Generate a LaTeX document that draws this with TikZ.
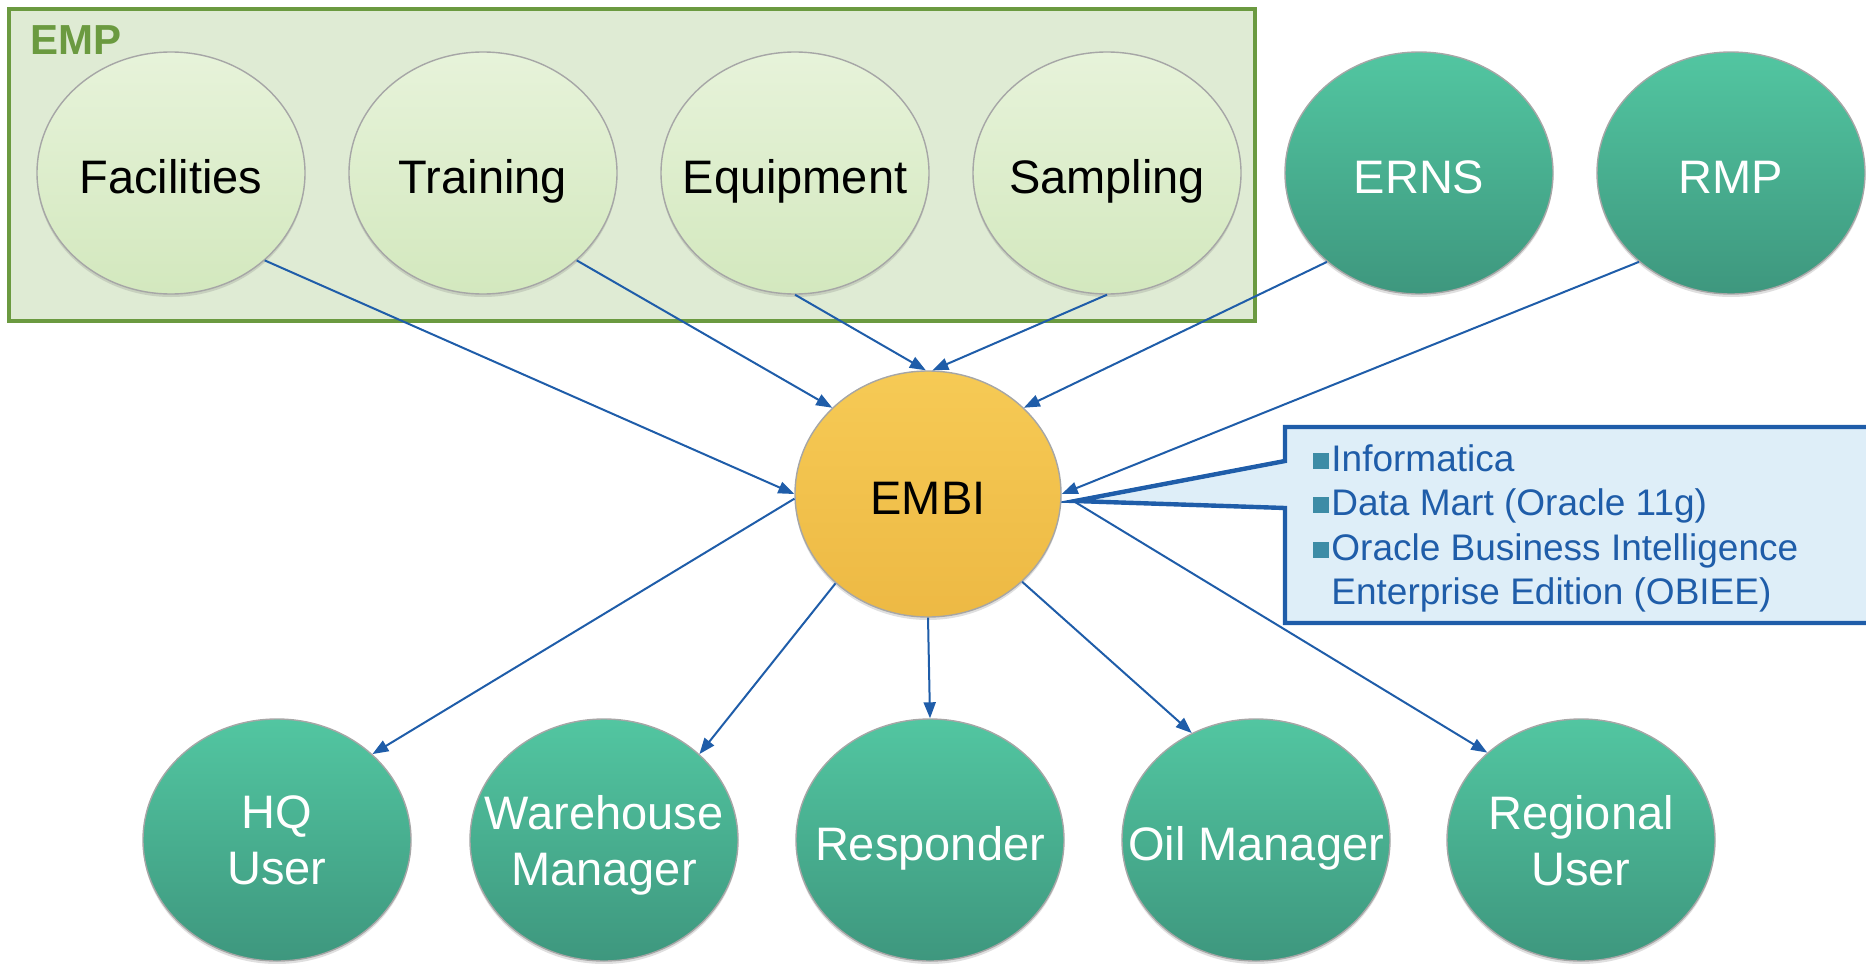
\documentclass[tikz,border=0pt]{standalone}
\usepackage{fontspec}
\setmainfont{Liberation Sans}
\usetikzlibrary{arrows.meta,shadows,shapes.geometric}

\definecolor{empfill}{HTML}{DFEBD4}
\definecolor{empline}{HTML}{6B9A40}
\definecolor{lgtop}{HTML}{E7F3DA}
\definecolor{lgbot}{HTML}{D3E8BE}
\definecolor{tealtop}{HTML}{52C6A1}
\definecolor{tealbot}{HTML}{3E977E}
\definecolor{embitop}{HTML}{F6CA55}
\definecolor{embibot}{HTML}{EDB944}
\definecolor{arrowblue}{HTML}{1F5DA9}
\definecolor{calfill}{HTML}{DEEEF8}
\definecolor{bulcol}{HTML}{3D8CA6}

\newcommand{\zw}[1]{\makebox[0pt]{#1}}
\newcommand{\bulsq}{\textcolor{bulcol}{\raisebox{1pt}{\rule{8pt}{8pt}}}\hspace{1pt}}

\begin{document}
\begin{tikzpicture}[x=0.5pt,y=-0.5pt,
  bubble/.style={ellipse, minimum width=134pt, minimum height=121pt, inner sep=0pt,
    align=center, font=\fontsize{23.5}{28}\selectfont, text depth=0pt,
    draw=black!35, line width=0.7pt,
    drop shadow={shadow xshift=0pt,shadow yshift=-1.5pt,opacity=0.25}},
  oneline/.style={text height=20pt},
  lightbub/.style={bubble, top color=lgtop, bottom color=lgbot, text=black},
  tealbub/.style={bubble, top color=tealtop, bottom color=tealbot, text=white},
  embibub/.style={bubble, minimum width=133pt, minimum height=123pt, top color=embitop, bottom color=embibot, text=black, oneline},
  arr/.style={draw=arrowblue, line width=1pt, -{Triangle[length=8pt,width=6pt]}, fill=none},
  caltext/.style={anchor=base west, inner sep=0pt, text=arrowblue, font=\fontsize{18.5}{22}\selectfont}
]
\useasboundingbox (0,0) rectangle (1866,963);

% EMP group box
\draw[draw=empline, fill=empfill, line width=2pt] (9,9) rectangle (1255,321);
\node[anchor=base west, inner sep=0pt, text=empline, font=\fontsize{21}{25}\bfseries\selectfont] (emplabel) at (30,55) {EMP};

% callout
\draw[draw=arrowblue, fill=calfill, line width=2.2pt, line join=miter]
  (1285,461) -- (1285,427) -- (1880,427) -- (1880,623) -- (1285,623) -- (1285,508) -- (1075,501) -- cycle;
\coordinate (tip) at (1075,502);
\node[caltext] (c1) at (1313,471) {\bulsq Informatica};
\node[caltext] (c2) at (1313,515) {\bulsq Data Mart (Oracle 11g)};
\node[caltext] (c3) at (1313,560) {\bulsq Oracle Business Intelligence};
\node[caltext] (c4) at (1331,604) {Enterprise Edition (OBIEE)};

% top row
\node[lightbub, oneline] (fac) at (171,173) {\zw{Facilities}};
\node[lightbub, oneline] (tra) at (483,173) {\zw{Training}};
\node[lightbub, oneline] (equ) at (795,173) {\zw{Equipment}};
\node[lightbub, oneline] (sam) at (1107,173) {\zw{Sampling}};
\node[tealbub, oneline] (erns) at (1419,173) {\zw{ERNS}};
\node[tealbub, oneline] (rmp) at (1731,173) {\zw{RMP}};

% centre
\node[embibub] (embi) at (928,494) {\zw{EMBI}};

% bottom row
\node[tealbub] (hq) at (277,840) {\zw{HQ}\\\zw{User}};
\node[tealbub] (wm) at (604,840) {\zw{Warehouse}\\\zw{Manager}};
\node[tealbub, oneline] (resp) at (930,840) {\zw{Responder}};
\node[tealbub, oneline] (oil) at (1256,840) {\zw{Oil Manager}};
\node[tealbub] (reg) at (1581,840) {\zw{Regional}\\\zw{User}};

% connectors
\draw[arr] (fac.-43) -- (embi.180);
\draw[arr] (tra.-43) -- (embi.138);
\draw[arr] (equ.south) -- (embi.91);
\draw[arr] (sam.south) -- (embi.88);
\draw[arr] (erns.-136) -- (embi.42);
\draw[arr] (rmp.-136) -- (embi.east);
\draw[arr] (embi.182) -- (hq.42);
\draw[arr] (embi.-136) -- (wm.42);
\draw[arr] (embi.south) -- (resp.north);
\draw[arr] (embi.-43) -- (oil.121);
\draw[arr] (tip) -- (reg.137);
\end{tikzpicture}
\end{document}
